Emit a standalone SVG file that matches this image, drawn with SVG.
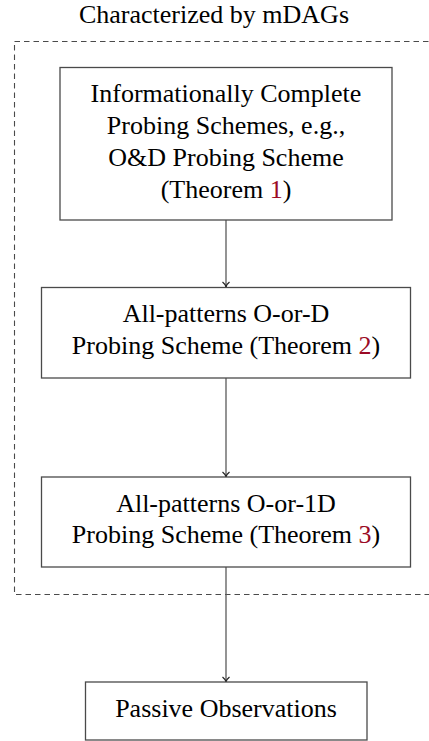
<svg xmlns="http://www.w3.org/2000/svg" width="429" height="741" viewBox="0 0 429 741">
<style>
text{font-family:"Liberation Serif","Times New Roman",serif;font-size:26px;fill:#000;text-anchor:middle}
.ref{fill:#9b0a24}
.box{fill:#fff;stroke:#4a4a4a;stroke-width:1.3}
.edge{stroke:#5a5a5a;stroke-width:1.3;fill:none}
</style>
<defs>
<marker id="arr" markerWidth="10" markerHeight="10" refX="8" refY="5" orient="auto" markerUnits="userSpaceOnUse">
<path d="M3,1.5 Q5,4.2 8,5 Q5,5.8 3,8.5" fill="none" stroke="#222" stroke-width="1.3"/>
</marker>
</defs>
<g id="group">
<rect x="14.5" y="41.5" width="430" height="553" fill="none" stroke="#4a4a4a" stroke-width="1.1" stroke-dasharray="5.5,4"/>
<text x="214" y="23">Characterized by mDAGs</text>
</g>
<g id="connectors">
<line class="edge" x1="226" y1="220" x2="226" y2="287" marker-end="url(#arr)"/>
<line class="edge" x1="226" y1="378" x2="226" y2="477" marker-end="url(#arr)"/>
<line class="edge" x1="226" y1="567" x2="226" y2="682" marker-end="url(#arr)"/>
</g>
<g id="n1">
<rect class="box" x="60" y="67.5" width="332" height="152.5"/>
<text x="226" y="101.5">Informationally Complete</text>
<text x="226" y="133.5">Probing Schemes, e.g.,</text>
<text x="226" y="165.5">O&amp;D Probing Scheme</text>
<text x="226" y="197.5">(Theorem <tspan class="ref">1</tspan>)</text>
</g>
<g id="n2">
<rect class="box" x="41.5" y="287.5" width="369" height="90.5"/>
<text x="226" y="321.5">All-patterns O-or-D</text>
<text x="226" y="354">Probing Scheme (Theorem <tspan class="ref">2</tspan>)</text>
</g>
<g id="n3">
<rect class="box" x="41.5" y="477" width="369" height="90"/>
<text x="226" y="511.5">All-patterns O-or-1D</text>
<text x="226" y="543">Probing Scheme (Theorem <tspan class="ref">3</tspan>)</text>
</g>
<g id="n4">
<rect class="box" x="85.5" y="682" width="281.5" height="58"/>
<text x="226" y="716.5">Passive Observations</text>
</g>
</svg>
